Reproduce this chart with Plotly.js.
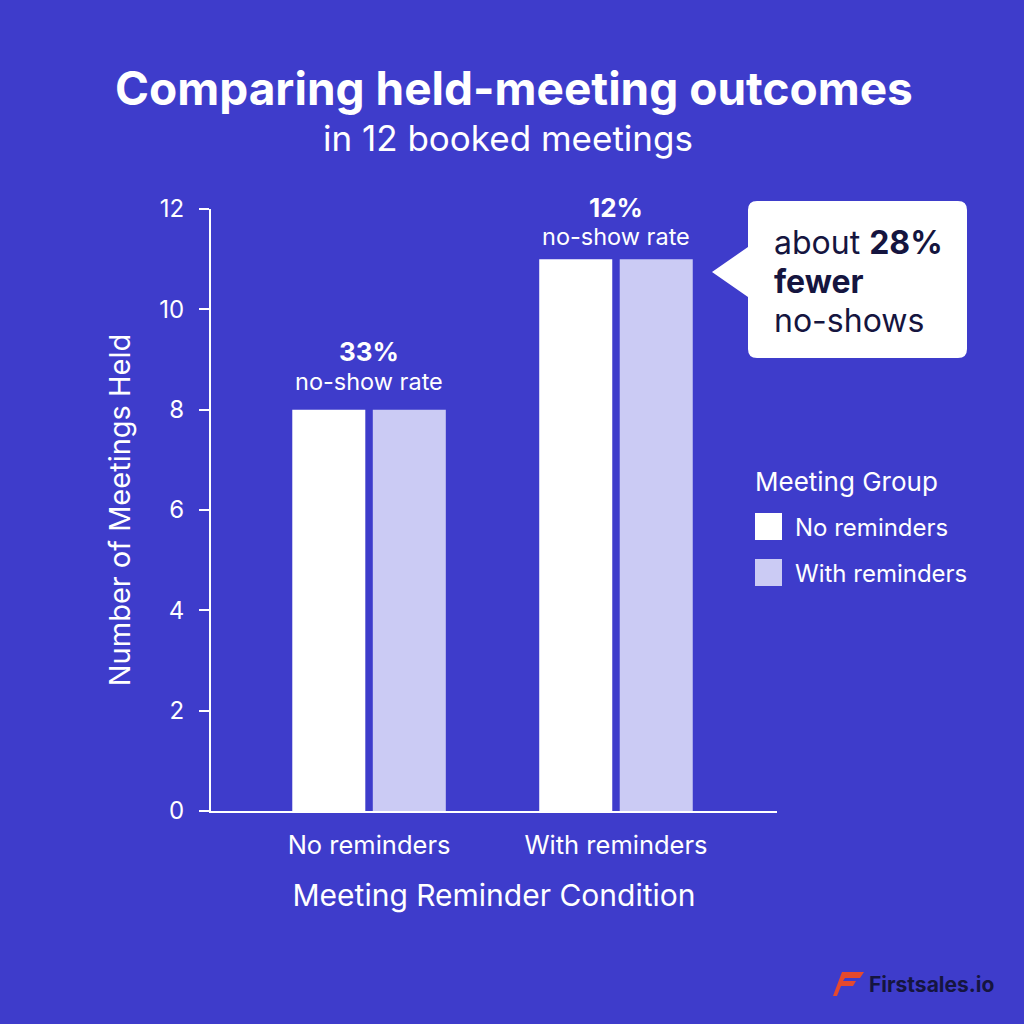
<!DOCTYPE html>
<html>
<head>
<meta charset="utf-8">
<script src="https://cdn.plot.ly/plotly-3.0.1.min.js"></script>
<style>
  html, body { margin:0; padding:0; background:#3E3CCB; }
  #chart { width:1024px; height:1024px; }
</style>
</head>
<body>
<div id="chart"></div>
<script>
// ---- data ----
const categories = ['No reminders', 'With reminders'];
const noReminders = [8, 11];
const withReminders = [8, 11];
const rateLabels = ['33%', '12%'];
const seriesNames = ['No reminders', 'With reminders'];

// ---- style ----
const BG = '#3E3CCB';
const WHITE = '#FFFFFF';
const LAV = '#CBCBF4';
const NAVY = '#15153F';
const FONT = 'Inter, "Noto Sans", sans-serif';

// plot area in pixels
const L = 211, R = 777, T = 209, B = 811;
const px = x => (x - L) / (R - L);
const py = y => (B - y) / (B - T);

const traces = [
  { type:'bar', name:seriesNames[0], x:categories, y:noReminders,
    marker:{color:WHITE}, showlegend:false, hoverinfo:'skip' },
  { type:'bar', name:seriesNames[1], x:categories, y:withReminders,
    marker:{color:LAV}, showlegend:false, hoverinfo:'skip' }
];

const annotations = [];
// rate labels above groups (vertical offsets are styling)
const pctShift = [58, 52];
const rateShift = [28, 23];
categories.forEach((c, i) => {
  const top = Math.max(noReminders[i], withReminders[i]);
  annotations.push({ x:c, y:top, xref:'x', yref:'y', yanchor:'middle', yshift:pctShift[i],
    text:'<b>' + rateLabels[i] + '</b>', showarrow:false,
    font:{family:FONT, size:26, color:WHITE} });
  annotations.push({ x:c, y:top, xref:'x', yref:'y', yanchor:'middle', yshift:rateShift[i],
    text:'no-show rate', showarrow:false,
    font:{family:FONT, size:23.5, color:WHITE} });
});

// titles
annotations.push({ x:px(514), y:py(88), xref:'paper', yref:'paper', xanchor:'center', yanchor:'middle',
  text:'<b>Comparing held-meeting outcomes</b>', showarrow:false,
  font:{family:FONT, size:46, color:WHITE} });
annotations.push({ x:px(508), y:py(138), xref:'paper', yref:'paper', xanchor:'center', yanchor:'middle',
  text:'in 12 booked meetings', showarrow:false,
  font:{family:FONT, size:35, color:WHITE} });

// callout text
annotations.push({ x:px(772), y:py(242), xref:'paper', yref:'paper', xanchor:'left', yanchor:'middle',
  text:'about <b>28%</b>', showarrow:false, font:{family:FONT, size:32, color:NAVY} });
annotations.push({ x:px(772), y:py(281), xref:'paper', yref:'paper', xanchor:'left', yanchor:'middle',
  text:'<b>fewer</b>', showarrow:false, font:{family:FONT, size:32, color:NAVY} });
annotations.push({ x:px(772), y:py(320), xref:'paper', yref:'paper', xanchor:'left', yanchor:'middle',
  text:'no-shows', showarrow:false, font:{family:FONT, size:32, color:NAVY} });

// legend (manual)
annotations.push({ x:px(753), y:py(481), xref:'paper', yref:'paper', xanchor:'left', yanchor:'middle',
  text:'Meeting Group', showarrow:false, font:{family:FONT, size:26, color:WHITE} });
annotations.push({ x:px(793), y:py(527), xref:'paper', yref:'paper', xanchor:'left', yanchor:'middle',
  text:seriesNames[0], showarrow:false, font:{family:FONT, size:24, color:WHITE} });
annotations.push({ x:px(793), y:py(573), xref:'paper', yref:'paper', xanchor:'left', yanchor:'middle',
  text:seriesNames[1], showarrow:false, font:{family:FONT, size:24, color:WHITE} });

// logo text
annotations.push({ x:px(867), y:py(984), xref:'paper', yref:'paper', xanchor:'left', yanchor:'middle',
  text:'<b>Firstsales.io</b>', showarrow:false, font:{family:FONT, size:21, color:NAVY} });

function pathPx(cmds) {
  return cmds.map(c => c[0] + px(c[1]).toFixed(5) + ',' + py(c[2]).toFixed(5)).join(' ') + ' Z';
}

const r = 9;
const shapes = [
  // callout bubble with pointer
  { type:'path', xref:'paper', yref:'paper', fillcolor:WHITE, line:{width:0},
    path: pathPx([
      ['M', 748 + r, 201], ['L', 967 - r, 201], ['Q', 967, 201], ['', 967, 201 + r],
      ['L', 967, 358 - r], ['Q', 967, 358], ['', 967 - r, 358],
      ['L', 748 + r, 358], ['Q', 748, 358], ['', 748, 358 - r],
      ['L', 748, 297], ['L', 712, 272], ['L', 748, 247],
      ['L', 748, 201 + r], ['Q', 748, 201], ['', 748 + r, 201]
    ]) },
  // legend swatches
  { type:'rect', xref:'paper', yref:'paper', x0:px(755), x1:px(782), y0:py(540), y1:py(513),
    fillcolor:WHITE, line:{width:0} },
  { type:'rect', xref:'paper', yref:'paper', x0:px(755), x1:px(782), y0:py(586), y1:py(559),
    fillcolor:LAV, line:{width:0} },
  // logo icon
  { type:'path', xref:'paper', yref:'paper', fillcolor:'#E5492E', line:{width:0},
    path: pathPx([['M',842,972],['L',864,972],['L',860,978],['L',845,978],['L',843,981],['L',856,981],['L',853,986],['L',841,986],['L',837,996],['L',833,996]]) }
];

const layout = {
  width:1024, height:1024,
  paper_bgcolor:BG, plot_bgcolor:BG,
  margin:{l:L, r:1024 - R, t:T, b:1024 - B, pad:0},
  barmode:'group', bargap:0.348, bargroupgap:0.093,
  showlegend:false,
  font:{family:FONT, color:WHITE},
  xaxis:{
    type:'category', range:[-0.64, 1.652], fixedrange:true,
    showline:true, linecolor:WHITE, linewidth:2, ticks:'', showgrid:false, zeroline:false,
    tickfont:{family:FONT, size:25.5, color:WHITE}, ticklabelstandoff:10,
    title:{text:'Meeting Reminder Condition', font:{family:FONT, size:30, color:WHITE}, standoff:26}
  },
  yaxis:{
    range:[0, 12], tickvals:[0,2,4,6,8,10,12], fixedrange:true,
    showline:true, linecolor:WHITE, linewidth:2, ticks:'outside', ticklen:10, tickwidth:2, tickcolor:WHITE,
    showgrid:false, zeroline:false,
    tickfont:{family:FONT, size:24, color:WHITE}, ticklabelstandoff:10,
    title:{text:'Number of Meetings Held', font:{family:FONT, size:29, color:WHITE}, standoff:20}
  },
  annotations, shapes
};

Plotly.newPlot('chart', traces, layout, {staticPlot:true, displayModeBar:false});
</script>
</body>
</html>
